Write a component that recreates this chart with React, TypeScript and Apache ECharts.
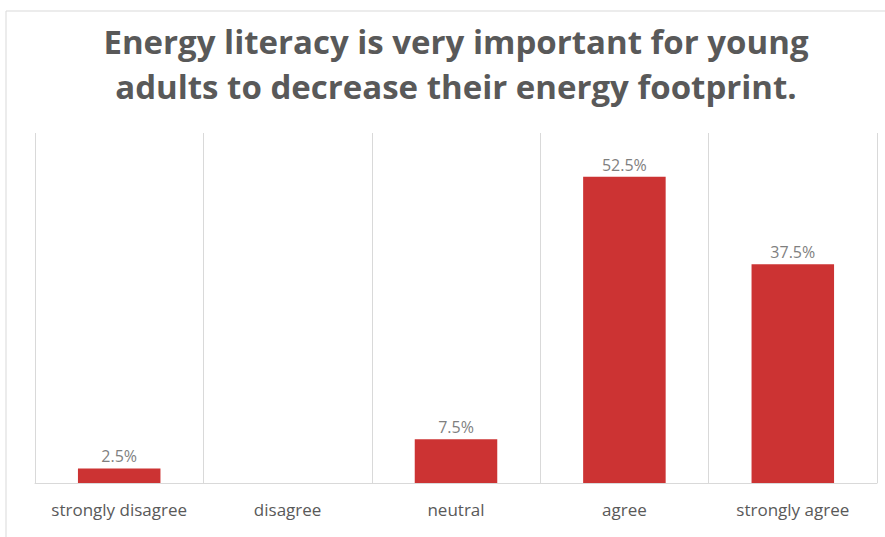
import React, { useEffect, useRef } from "react";
import * as echarts from "echarts";

const titleLines = [
  "Energy literacy is very important for young",
  "adults to decrease their energy footprint.",
];
const categories = ["strongly disagree", "disagree", "neutral", "agree", "strongly agree"];
const shares = [2.5, 0, 7.5, 52.5, 37.5];

const FONT = "'Open Sans', 'Noto Sans', sans-serif";

export default function App() {
  const ref = useRef<HTMLDivElement>(null);

  useEffect(() => {
    if (!ref.current) return;
    const chart = echarts.init(ref.current, null, { renderer: "svg" });
    chart.setOption({
      animation: false,
      backgroundColor: "#ffffff",
      graphic: [
        // light frame around the chart area
        {
          type: "rect",
          shape: { x: 6, y: 11, width: 900, height: 560 },
          style: { fill: "none", stroke: "#d9d9d9", lineWidth: 1 },
          silent: true,
        },
        // two-line heading
        ...titleLines.map((line, i) => ({
          type: "text",
          x: 456,
          y: 41 + i * 45,
          style: {
            text: line,
            align: "center",
            verticalAlign: "middle",
            fontFamily: FONT,
            fontWeight: "bold",
            fontSize: 33,
            fill: "#595959",
          },
          silent: true,
        })),
      ],
      grid: { left: 35, right: 8, top: 133, bottom: 54 },
      xAxis: {
        type: "category",
        data: categories,
        axisLine: { show: true, lineStyle: { color: "#d9d9d9", width: 1 } },
        axisTick: { show: false },
        splitLine: { show: true, interval: 0, lineStyle: { color: "#d9d9d9", width: 1 } },
        axisLabel: {
          interval: 0,
          margin: 18,
          fontFamily: FONT,
          fontSize: 17,
          color: "#595959",
        },
      },
      yAxis: {
        type: "value",
        min: 0,
        max: 60,
        show: false,
        splitLine: { show: false },
      },
      series: [
        {
          type: "bar",
          data: shares.map((v) => (v === 0 ? null : v)),
          barWidth: "49%",
          itemStyle: { color: "#cc3333" },
          label: {
            show: true,
            position: "top",
            distance: 4,
            formatter: (p: any) => `${p.value}%`,
            fontFamily: FONT,
            fontSize: 16,
            color: "#7f7f7f",
          },
        },
      ],
    });
    return () => chart.dispose();
  }, []);

  return (
    <div
      ref={ref}
      style={{ position: "fixed", left: 0, top: 0, width: 885, height: 537 }}
    />
  );
}
